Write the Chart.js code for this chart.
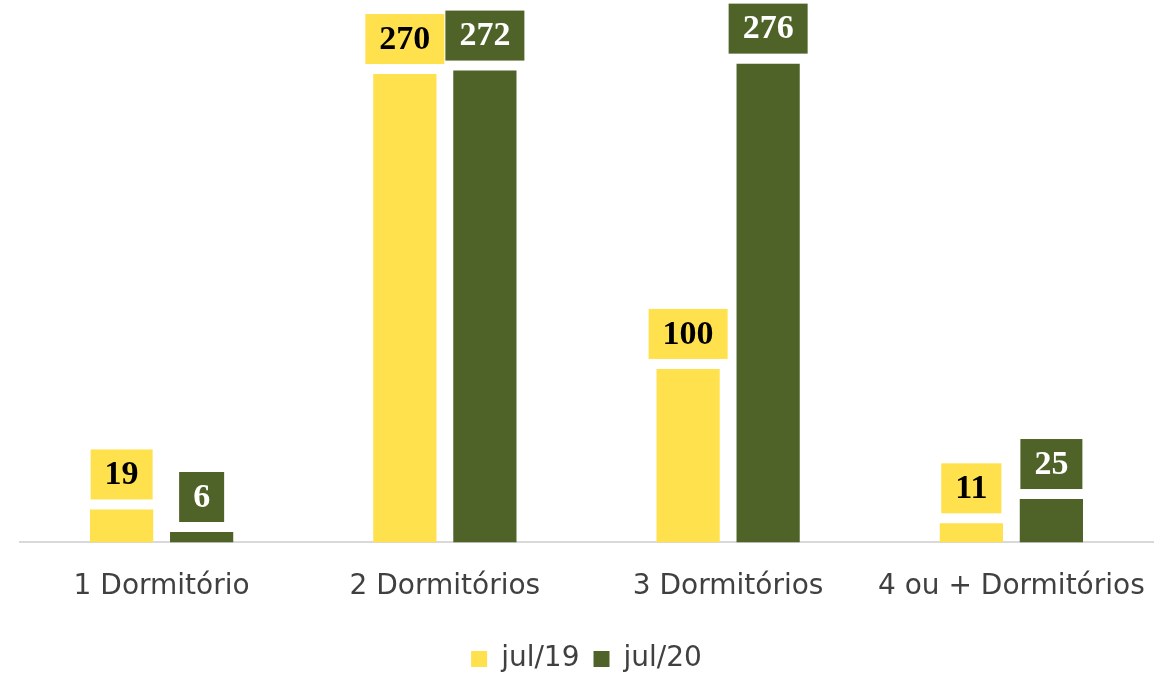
<!DOCTYPE html>
<html>
<head>
<meta charset="utf-8">
<script src="https://cdn.jsdelivr.net/npm/chart.js@4/dist/chart.umd.min.js"></script>
<style>
  html, body { margin: 0; padding: 0; background: #fff; }
  canvas { display: block; }
</style>
</head>
<body>
<canvas id="chart" width="1173" height="676"></canvas>
<script>
const categories = ['1 Dormitório', '2 Dormitórios', '3 Dormitórios', '4 ou + Dormitórios'];
const seriesNames = ['jul/19', 'jul/20'];
const jul19 = [19, 270, 100, 11];
const jul20 = [6, 272, 276, 25];
const colors = ['#FFE04D', '#4F6228'];
const labelText = ['#000000', '#ffffff'];

// boxed value labels drawn above each bar
const boxLabels = {
  id: 'boxLabels',
  afterDatasetsDraw(chart) {
    const ctx = chart.ctx;
    ctx.save();
    ctx.font = 'bold 34px "Liberation Serif"';
    ctx.textAlign = 'center';
    ctx.textBaseline = 'middle';
    chart.data.datasets.forEach((ds, i) => {
      chart.getDatasetMeta(i).data.forEach((bar, j) => {
        const txt = String(ds.data[j]);
        const w = ctx.measureText(txt).width + 28;
        const h = 50;
        const bottom = bar.y - 10;
        ctx.fillStyle = colors[i];
        ctx.fillRect(bar.x - w / 2, bottom - h, w, h);
        ctx.fillStyle = labelText[i];
        ctx.fillText(txt, bar.x, bottom - h / 2 + 1);
      });
    });
    ctx.restore();
  }
};

new Chart(document.getElementById('chart').getContext('2d'), {
  type: 'bar',
  data: {
    labels: categories,
    datasets: [
      { label: seriesNames[0], data: jul19, backgroundColor: colors[0], categoryPercentage: 0.565, barPercentage: 0.79 },
      { label: seriesNames[1], data: jul20, backgroundColor: colors[1], categoryPercentage: 0.565, barPercentage: 0.79 }
    ]
  },
  options: {
    responsive: false,
    animation: false,
    layout: { padding: { left: 20, right: 20, top: 22, bottom: -7 } },
    scales: {
      x: {
        grid: { display: false },
        border: { color: '#d9d9d9', width: 2 },
        ticks: { font: { family: 'DejaVu Sans', size: 28 }, color: '#404040', padding: 20 },
        afterFit(scale) { scale.height += 7; }
      },
      y: { display: false, min: 0, max: 300 }
    },
    plugins: {
      legend: {
        position: 'bottom',
        labels: { boxWidth: 16, boxHeight: 16, padding: 14, color: '#404040', font: { family: 'DejaVu Sans', size: 28 } }
      },
      tooltip: { enabled: false }
    }
  },
  plugins: [boxLabels]
});
</script>
</body>
</html>
